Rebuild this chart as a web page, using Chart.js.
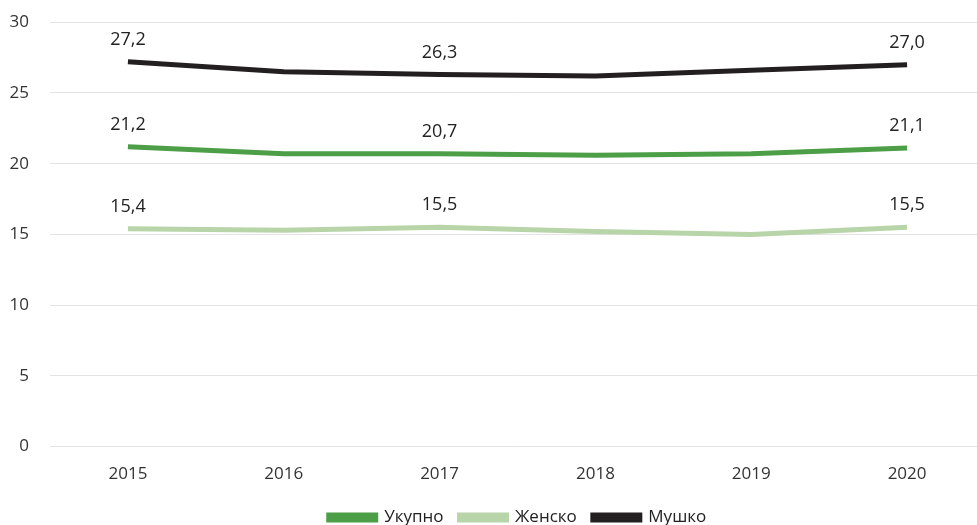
<!DOCTYPE html>
<html>
<head>
  <title>Укупно / Женско / Мушко</title>
  <script src="https://cdn.jsdelivr.net/npm/chart.js"></script>
  <style>
    html, body { margin: 0; overflow: hidden; background: #fff; font-family: "Open Sans", sans-serif; }
    #wrap { position: relative; top: -9px; width: 985px; height: 534px; }
  </style>
</head>
<body>
  <div id="wrap"><canvas id="lineChart"></canvas></div>

  <script>
    const years = ["2015", "2016", "2017", "2018", "2019", "2020"];
    const ukupno = [21.2, 20.7, 20.7, 20.6, 20.7, 21.1];
    const zensko = [15.4, 15.3, 15.5, 15.2, 15.0, 15.5];
    const musko = [27.2, 26.5, 26.3, 26.2, 26.6, 27.0];
    const labelled = [0, 2, 5];

    // values above selected points, decimal comma
    const pointLabels = {
      id: "pointLabels",
      afterDatasetsDraw(chart) {
        const ctx = chart.ctx;
        ctx.save();
        ctx.font = "18px 'Open Sans', sans-serif";
        ctx.fillStyle = "#222";
        ctx.textAlign = "center";
        ctx.textBaseline = "middle";
        chart.data.datasets.forEach((ds, i) => {
          const meta = chart.getDatasetMeta(i);
          labelled.forEach(j => {
            const pt = meta.data[j];
            ctx.fillText(ds.data[j].toFixed(1).replace(".", ","), pt.x, pt.y - 22);
          });
        });
        ctx.restore();
      }
    };

    const tickFont = { size: 17, family: "'Open Sans', sans-serif" };

    const ctx = document.getElementById("lineChart").getContext("2d");
    new Chart(ctx, {
      type: "line",
      data: {
        labels: years,
        datasets: [
          { label: "Укупно", data: ukupno, borderColor: "#4c9f47", backgroundColor: "#4c9f47" },
          { label: "Женско", data: zensko, borderColor: "#b8d4a9", backgroundColor: "#b8d4a9" },
          { label: "Мушко", data: musko, borderColor: "#231f20", backgroundColor: "#231f20" }
        ]
      },
      options: {
        responsive: true,
        maintainAspectRatio: false,
        animation: false,
        elements: {
          line: { borderWidth: 5, tension: 0 },
          point: { radius: 0, hoverRadius: 0 }
        },
        layout: { padding: { top: 8, right: 0, left: 0, bottom: -11 } },
        plugins: {
          tooltip: { enabled: false },
          legend: {
            position: "bottom",
            fullSize: false,
            labels: {
              boxWidth: 47,
              boxHeight: 5,
              padding: 16,
              color: "#222",
              font: { size: 17, family: "'Open Sans', sans-serif" }
            }
          }
        },
        scales: {
          x: {
            offset: true,
            grid: { display: false },
            border: { display: false },
            ticks: { color: "#333", font: tickFont, padding: 9 }
          },
          y: {
            min: 0,
            max: 30,
            ticks: { stepSize: 5, color: "#333", font: tickFont, padding: 21 },
            grid: { color: "#e3e3e3", drawTicks: false },
            border: { display: false },
            afterFit(scale) { scale.width = 50; }
          }
        }
      },
      plugins: [pointLabels]
    });
  </script>
</body>
</html>
